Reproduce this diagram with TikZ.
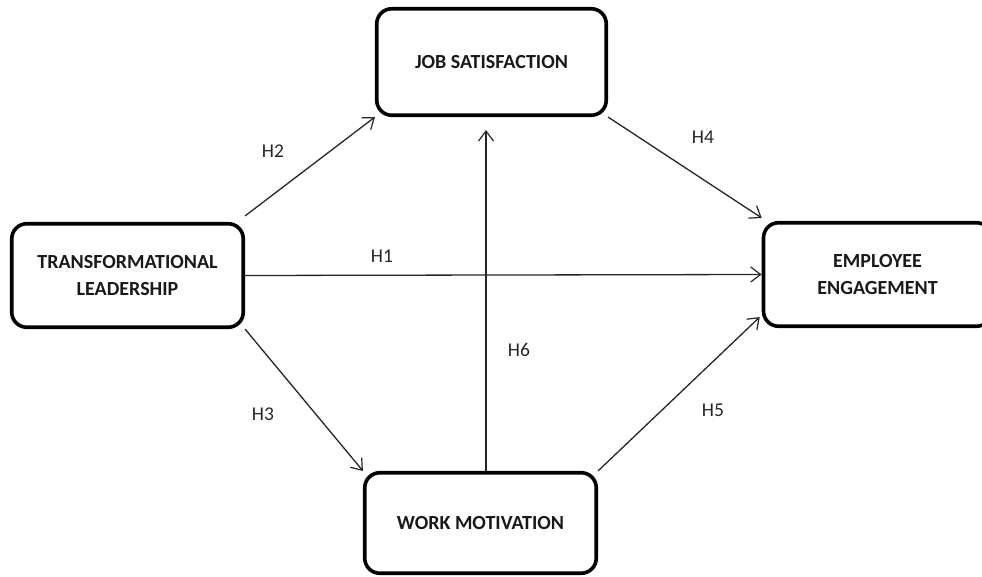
\documentclass[tikz,border=0pt]{standalone}
\usepackage{fontspec}
\setmainfont{Carlito}
\usetikzlibrary{arrows.meta,calc}
\begin{document}
\begin{tikzpicture}[x=1pt,y=-1pt,
  box/.style={draw=black,line width=3.6pt,rounded corners=15pt,align=center,
    font=\fontsize{20}{27}\selectfont\bfseries,inner sep=0pt,text=black!90},
  link/.style={draw=black!85,line width=1.3pt,-{Straight Barb[length=10pt,width=15pt,line width=1.2pt]}},
  lab/.style={font=\fontsize{19.5}{22}\selectfont,inner sep=0pt,text=black!85}]
\useasboundingbox (0,0) rectangle (982,577);
\node[box,minimum width=229.5pt,minimum height=106.5pt] (JS) at (491.5,62) {JOB SATISFACTION};
\node[box,minimum width=231.5pt,minimum height=103.5pt] (TL) at (127.5,275.5) {TRANSFORMATIONAL\\LEADERSHIP};
\node[box,minimum width=228pt,minimum height=103.5pt] (EE) at (877.5,274.5) {EMPLOYEE\\ENGAGEMENT};
\node[box,minimum width=231.5pt,minimum height=100.5pt] (WM) at (480.5,523) {WORK MOTIVATION};
\draw[link] ($(TL.north east)+(0,-6)$) -- (JS.south west);
\draw[link] (JS.south east) -- ($(EE.north west)+(0,-3)$);
\draw[link] (TL.east) -- (EE.west);
\draw[link] (TL.south east) -- (WM.north west);
\draw[link] (WM.north east) -- ($(EE.south west)+(-2,-11)$);
\draw[link] ($(WM.north)+(5.5,0)$) -- ($(JS.south)+(-5.5,13)$);
\node[lab] (h2) at (273,151) {H2};
\node[lab] (h4) at (703,137) {H4};
\node[lab] (h1) at (382,256) {H1};
\node[lab] (h6) at (519,350) {H6};
\node[lab] (h3) at (263,414) {H3};
\node[lab] (h5) at (713,410) {H5};
\end{tikzpicture}
\end{document}
